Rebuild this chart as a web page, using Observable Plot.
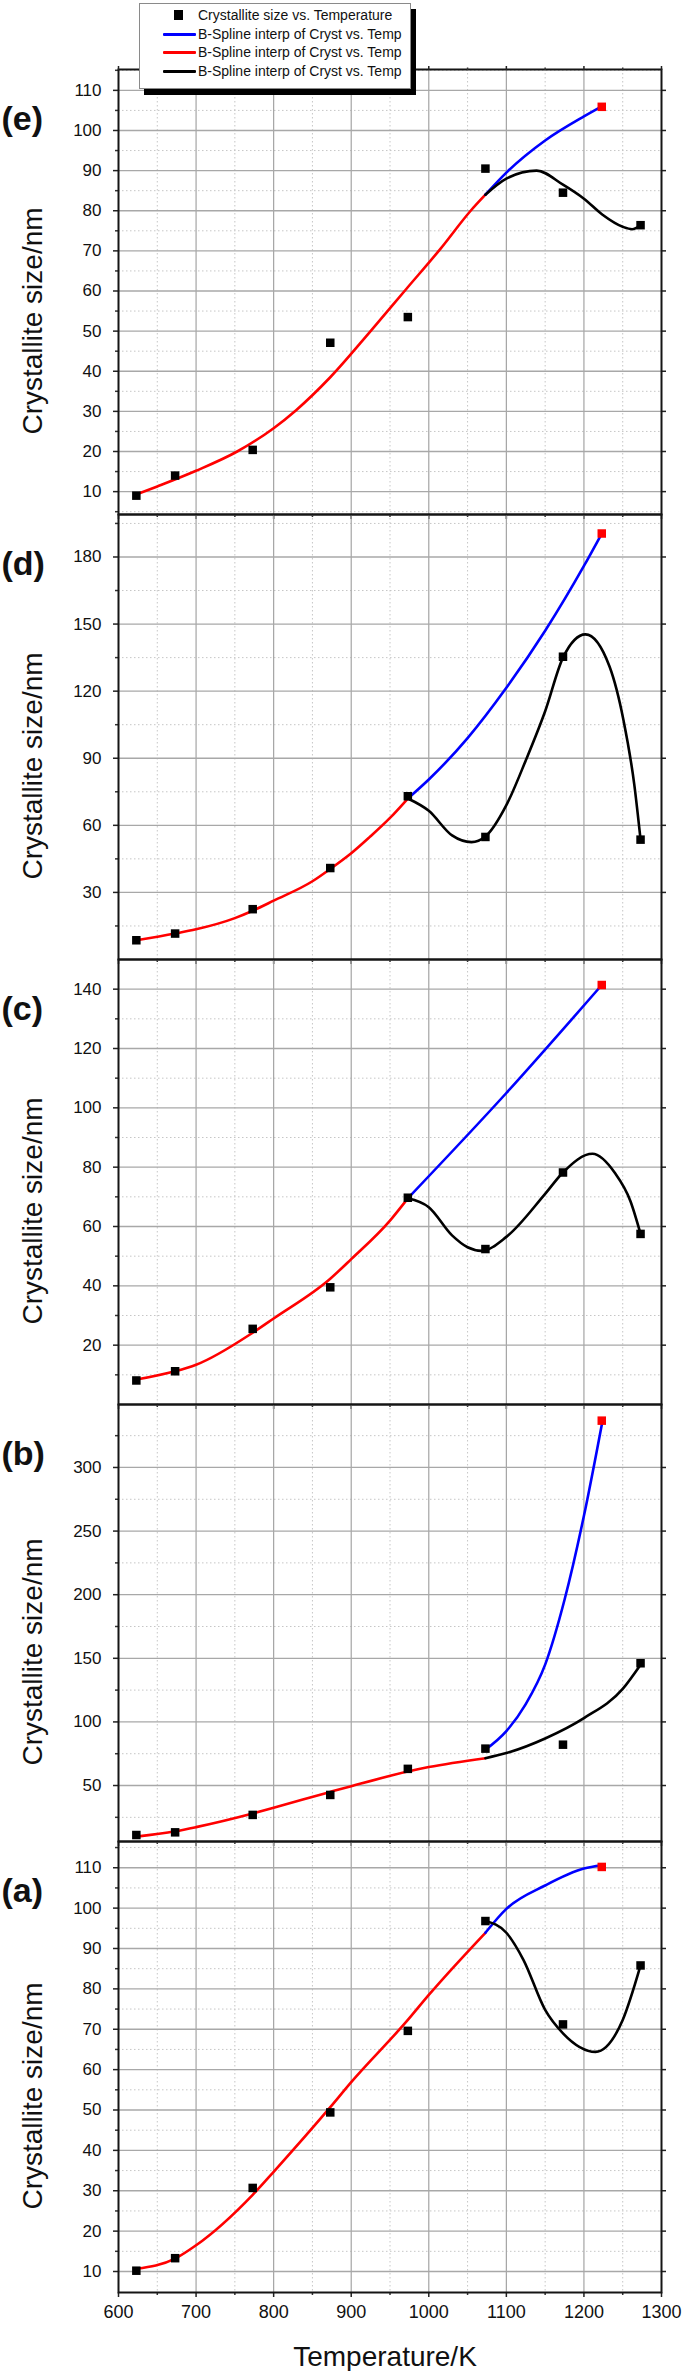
<!DOCTYPE html>
<html><head><meta charset="utf-8">
<script src="https://cdn.jsdelivr.net/npm/d3@7"></script>
<script src="https://cdn.jsdelivr.net/npm/@observablehq/plot@0.6"></script>
<style>
body{margin:0;background:#fff;}
#chart{position:relative;width:685px;height:2371px;overflow:hidden;font-family:"Liberation Sans",Arial,sans-serif;background:#fff;}
#chart svg{position:absolute;left:0;}
#legend{position:absolute;left:139px;top:3px;width:270px;height:84px;background:#fff;border:1px solid #8a8a8a;box-shadow:5px 6px 0 #000;font-size:14px;color:#111;z-index:5;}
#legend .row{position:absolute;left:0;height:18px;width:270px;}
#legend .sw{position:absolute;left:23px;top:8px;width:33px;height:3px;border-radius:1px;}
#legend .sq{position:absolute;left:34px;top:4px;width:9px;height:10px;background:#000;}
#legend .tx{position:absolute;left:58px;top:0;line-height:18px;white-space:nowrap;}
</style></head><body><div id="chart"></div>
<script>
// ---------- data ----------
const temperatures = [623, 673, 773, 873, 973, 1073, 1173, 1273];
const redPointTemp = 1223;
const xMajor = [600, 700, 800, 900, 1000, 1100, 1200, 1300];
const xMinor = [650, 750, 850, 950, 1050, 1150, 1250];

// panel (e)
const sizeE = [9.0, 14.0, 20.4, 47.1, 53.5, 90.5, 84.5, 76.4];
const redSizeE = 105.9;
const redCurveE = [[623,9.3],[650,11.3],[700,15.2],[753,20],[800,25.8],[829,30.3],[873,38.5],[925,50],[971,60.5],[1015,70.5],[1054,80],[1073,84]];
const blueCurveE = [[1073,84],[1100,89.5],[1150,97.5],[1200,103.5],[1223,106]];
const blackCurveE = [[1073,84],[1100,88],[1139,90],[1173,86.5],[1200,83],[1224,79],[1250,76],[1262,75.4],[1273,76.4]];
const ticksE = [10,20,30,40,50,60,70,80,90,100,110];
const minorE = [5,15,25,35,45,55,65,75,85,95,105,115];

// panel (d)
const sizeD = [8.6, 11.6, 22.5, 40.9, 73.0, 54.8, 135.4, 53.6];
const redSizeD = 190.5;
const redCurveD = [[623,8.6],[673,11.6],[700,13.5],[750,18.5],[773,21.8],[800,26.3],[850,35],[873,40.5],[900,47.5],[923,54.5],[950,63.3],[973,72]];
const blueCurveD = [[973,72],[1000,80.5],[1050,99],[1100,121.5],[1150,147],[1200,176],[1223,190.5]];
const blackCurveD = [[973,72],[1000,66.5],[1030,55.5],[1055,52.5],[1073,55],[1100,69],[1125,89],[1150,111],[1173,135],[1202,145.4],[1233,131],[1251,107],[1265,78],[1273,53.6]];
const ticksD = [30,60,90,120,150,180];
const minorD = [15,45,75,105,135,165,195];

// panel (c)
const sizeC = [8.1, 11.2, 25.5, 39.5, 69.7, 52.4, 78.2, 57.5];
const redSizeC = 141.4;
const redCurveC = [[623,8.4],[673,11.2],[700,13.4],[773,24.2],[800,29],[873,42.4],[900,49],[950,62],[973,69.5]];
const blueCurveC = [[973,69.5],[1100,105],[1223,141.4]];
const blackCurveC = [[973,69.5],[1000,66.5],[1030,57],[1050,53],[1068,51.8],[1100,56.5],[1150,71],[1173,78.2],[1211,84.5],[1240,78],[1260,68.5],[1273,57.5]];
const ticksC = [20,40,60,80,100,120,140];
const minorC = [10,30,50,70,90,110,130];

// panel (b)
const sizeB = [11.1, 13.2, 26.9, 42.6, 63.1, 79.0, 82.1, 146.1];
const redSizeB = 336.8;
const redCurveB = [[623,9.8],[673,14],[700,17.3],[773,28],[800,32.5],[873,45],[900,49.5],[973,61],[1000,64.5],[1073,71.5]];
const blueCurveB = [[1073,78.2],[1100,92.8],[1125,114],[1150,145],[1175,196],[1200,262],[1224,336.8]];
const blackCurveB = [[1073,71.5],[1100,75.5],[1150,87],[1200,103],[1250,126],[1273,145]];
const ticksB = [50,100,150,200,250,300];
const minorB = [25,75,125,175,225,275,325];

// panel (a)
const sizeA = [10.2, 13.3, 30.7, 49.4, 69.6, 96.8, 71.2, 85.8];
const redSizeA = 110.2;
const redCurveA = [[623,10.7],[673,13.2],[700,16.5],[773,29],[800,34.7],[873,50.7],[900,56.9],[973,72.3],[1000,78.5],[1073,93.9]];
const blueCurveA = [[1073,93.9],[1100,99.8],[1150,105.6],[1200,109.8],[1223,110.6]];
const blackCurveA = [[1073,96.8],[1100,93.9],[1122,87.2],[1150,74.8],[1173,69],[1215,64.4],[1250,72.3],[1273,85.8]];
const ticksA = [10,20,30,40,50,60,70,80,90,100,110];
const minorA = [15,25,35,45,55,65,75,85,95,105,115];

const yLabel = "Crystallite size/nm";
const xLabel = "Temperature/K";
const legendItems = ["Crystallite size vs. Temperature", "B-Spline interp of Cryst vs. Temp", "B-Spline interp of Cryst vs. Temp", "B-Spline interp of Cryst vs. Temp"];

// ---------- layout ----------
const W = 685, ML = 118, MR = 24;
const panels = [
  {letter:"(e)", top:69,   bottom:514,  dom:[4.3,115.2], ticks:ticksE, minor:minorE, sizes:sizeE, redSize:redSizeE, red:redCurveE, blue:blueCurveE, black:blackCurveE, first:true},
  {letter:"(d)", top:514,  bottom:959,  dom:[0,199],     ticks:ticksD, minor:minorD, sizes:sizeD, redSize:redSizeD, red:redCurveD, blue:blueCurveD, black:blackCurveD},
  {letter:"(c)", top:959,  bottom:1404, dom:[0,150],     ticks:ticksC, minor:minorC, sizes:sizeC, redSize:redSizeC, red:redCurveC, blue:blueCurveC, black:blackCurveC},
  {letter:"(b)", top:1404, bottom:1841, dom:[6,349.5],   ticks:ticksB, minor:minorB, sizes:sizeB, redSize:redSizeB, red:redCurveB, blue:blueCurveB, black:blackCurveB},
  {letter:"(a)", top:1841, bottom:2292, dom:[4.8,116.5], ticks:ticksA, minor:minorA, sizes:sizeA, redSize:redSizeA, red:redCurveA, blue:blueCurveA, black:blackCurveA, last:true}
];

const chart = document.getElementById("chart");
const toObj = a => a.map(([T, v]) => ({T, v}));
const blank = () => "";
const plain = d => String(d);

panels.forEach(p => {
  const mt = 8, mb = p.last ? 90 : 8;
  const h = p.bottom - p.top;
  const pts = temperatures.map((T, i) => ({T, v: p.sizes[i]}));
  const minorIn = p.minor.filter(v => v > p.dom[0] && v < p.dom[1]);
  const marks = [
    Plot.ruleX(xMinor, {stroke:"#c6c6c6", strokeWidth:1, strokeDasharray:"1.5,2.5"}),
    Plot.ruleY(minorIn, {stroke:"#c6c6c6", strokeWidth:1, strokeDasharray:"1.5,2.5"}),
    Plot.ruleX(xMajor.slice(1, -1), {stroke:"#a4a4a4", strokeWidth:1.2}),
    Plot.ruleY(p.ticks, {stroke:"#a8a8a8", strokeWidth:1.3}),
    Plot.axisY({ticks:p.ticks, anchor:"left", tickSize:5, tickPadding:12, fontSize:17, label:null, tickFormat:plain, stroke:"#222", strokeWidth:1.5}),
    Plot.axisY({ticks:minorIn, anchor:"left", tickSize:3, tickFormat:blank, label:null, stroke:"#333", strokeWidth:1.5}),
    Plot.axisY({ticks:p.ticks, anchor:"right", tickSize:4, tickFormat:blank, label:null, stroke:"#222", strokeWidth:1.5}),
    Plot.axisX({ticks:xMajor, anchor:"bottom", tickSize:5, tickPadding:8, fontSize:18, label:null, tickFormat: p.last ? plain : blank, stroke:"#222", strokeWidth:1.5}),
    Plot.axisX({ticks:xMinor, anchor:"bottom", tickSize:3, tickFormat:blank, label:null, stroke:"#333", strokeWidth:1.5}),
    Plot.frame({stroke:"#151515", strokeWidth:2}),
    Plot.line(toObj(p.red), {x:"T", y:"v", stroke:"#ff0000", strokeWidth:2.6, curve:"monotone-x"}),
    Plot.line(toObj(p.blue), {x:"T", y:"v", stroke:"#0000ff", strokeWidth:2.6, curve:"monotone-x"}),
    Plot.line(toObj(p.black), {x:"T", y:"v", stroke:"#000000", strokeWidth:2.6, curve:"monotone-x"}),
    Plot.dot(pts, {x:"T", y:"v", symbol:"square", r:4.8, fill:"#000", stroke:null}),
    Plot.dot([{T:redPointTemp, v:p.redSize}], {x:"T", y:"v", symbol:"square", r:4.8, fill:"#ff0000", stroke:null}),
    Plot.text([p.letter], {frameAnchor:"top-left", dx:-ML + 1, dy:50, textAnchor:"start", lineAnchor:"middle", fontSize:34, fontWeight:"bold", fill:"#111"}),
    Plot.text([yLabel], {frameAnchor:"left", dx:-85, dy:29, rotate:-90, textAnchor:"middle", lineAnchor:"middle", fontSize:28, fill:"#111"})
  ];
  if (p.first) {
    marks.push(Plot.axisX({ticks:xMajor, anchor:"top", tickSize:4, tickFormat:blank, label:null, stroke:"#222", strokeWidth:1.5}));
    marks.push(Plot.axisX({ticks:xMinor, anchor:"top", tickSize:2.5, tickFormat:blank, label:null, stroke:"#333", strokeWidth:1.5}));
  }
  if (p.last) {
    marks.push(Plot.text([xLabel], {frameAnchor:"bottom", dx:-5, dy:65, textAnchor:"middle", lineAnchor:"middle", fontSize:28, fill:"#111"}));
  }
  const svg = Plot.plot({
    width: W, height: h + mt + mb,
    marginLeft: ML, marginRight: MR, marginTop: mt, marginBottom: mb,
    x: {domain: [600, 1300]},
    y: {domain: p.dom},
    style: {fontFamily: "'Liberation Sans', Arial, sans-serif", background: "transparent", overflow: "visible", color: "#111"},
    marks
  });
  svg.style.top = (p.top - mt) + "px";
  chart.appendChild(svg);
});

// legend (HTML overlay above panel e)
const legend = document.createElement("div");
legend.id = "legend";
const rowTops = [14, 33, 51, 70];
const swatch = ["square", "#0000ff", "#ff0000", "#000000"];
legendItems.forEach((label, i) => {
  const row = document.createElement("div");
  row.className = "row";
  row.style.top = (rowTops[i] - 12) + "px";
  const s = document.createElement("div");
  if (swatch[i] === "square") { s.className = "sq"; }
  else { s.className = "sw"; s.style.background = swatch[i]; }
  row.appendChild(s);
  const t = document.createElement("div");
  t.className = "tx";
  t.textContent = label;
  row.appendChild(t);
  legend.appendChild(row);
});
chart.appendChild(legend);
</script>
</body></html>
